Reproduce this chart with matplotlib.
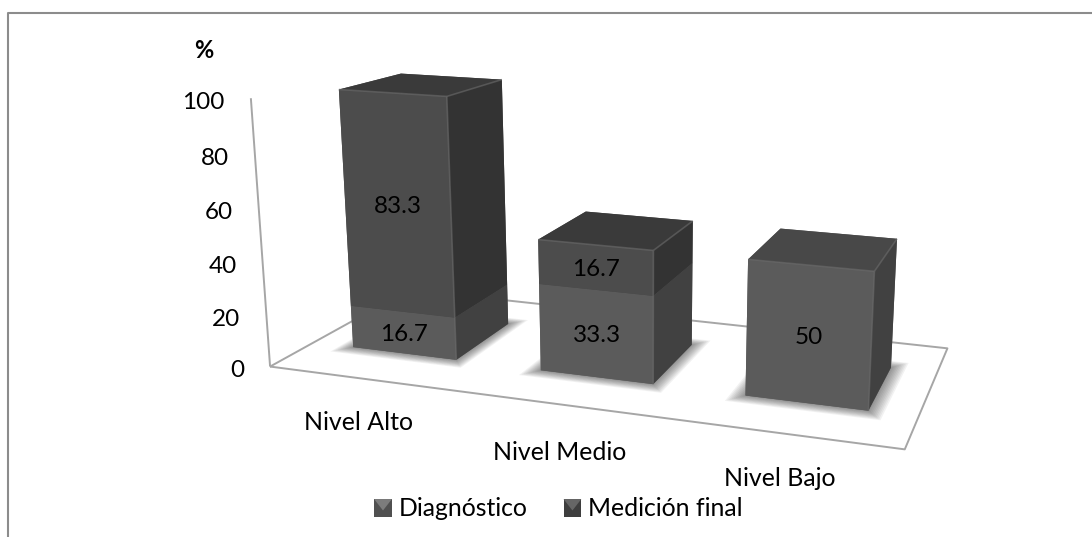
import numpy as np
import matplotlib
matplotlib.use("Agg")
import matplotlib.pyplot as plt
from matplotlib.legend_handler import HandlerPatch
from matplotlib.patches import Patch, Polygon, Rectangle
from mpl_toolkits.mplot3d import proj3d
from mpl_toolkits.mplot3d.art3d import Line3DCollection, Poly3DCollection

plt.rcParams['font.family'] = ['Lato', 'DejaVu Sans']

categories = ["Nivel Alto", "Nivel Medio", "Nivel Bajo"]
diagnostico = [16.7, 33.3, 50]
medicion_final = [83.3, 16.7, 0]
y_ticks = [0, 20, 40, 60, 80, 100]

bar_w = 0.56
front, back = 0.28, 0.72
category_label_px = [(358, 423), (560, 452), (780, 479)]

# face order for bar3d: bottom, top, front, back, left, right
colors_diag = ['#5b5b5b', '#484848', '#5b5b5b', '#5b5b5b', '#5b5b5b', '#414141']
colors_final = ['#4c4c4c', '#3a3a3a', '#4c4c4c', '#4c4c4c', '#4c4c4c', '#333333']

# camera solved from where known scene points land on the canvas
scene_pts = [(0, 0, 0), (3, 0, 0), (3, 1, 0), (0, 1, 0), (0, 0, 100),
             (.22, .28, 100), (.78, .28, 100), (.78, .72, 100), (.22, .72, 100),
             (2.22, .28, 50), (2.78, .28, 50), (2.78, .72, 50),
             (1.22, .28, 50), (1.78, .28, 50),
             (.22, .28, 0), (.78, .28, 0), (2.22, .28, 0), (2.78, .28, 0)]
canvas_pts = [(268, 369), (903, 452), (948, 348), (411, 290), (251, 98),
              (342, 90), (450, 96), (498, 80), (398, 73),
              (748, 259), (876, 270), (897, 242),
              (538, 239), (654, 250),
              (353, 347), (457, 358), (744, 394), (869, 409)]


def solve_camera(world, canvas):
    rows = []
    for (x, y, z), (u, v) in zip(world, canvas):
        z, u, v = z / 100, u / 1000, v / 1000
        rows.append([x, y, z, 1, 0, 0, 0, 0, -u * x, -u * y, -u * z, -u])
        rows.append([0, 0, 0, 0, x, y, z, 1, -v * x, -v * y, -v * z, -v])
    cam = np.linalg.svd(np.array(rows))[2][-1].reshape(3, 4)
    cam = cam / cam[2, 3]
    cam[:2] *= 1000
    cam[:, 2] /= 100
    return cam


cam = solve_camera(scene_pts, canvas_pts)

fig = plt.figure(figsize=(10.92, 5.37), dpi=100)
ax = fig.add_axes([0, 0, 1, 1], projection='3d')
ax.set_axis_off()
ax.set_xticks([])
ax.set_yticks([])
ax.set_zticks([])
ax.computed_zorder = False
ax.apply_aspect = lambda position=None: None


def get_proj():
    # canvas pixels to the 2d view limits of the axes, plus a depth row for sorting
    lim = ax.viewLim
    sx = (lim.x1 - lim.x0) / 1092
    sy = (lim.y0 - lim.y1) / 537
    m = np.zeros((4, 4))
    m[0] = sx * cam[0] + lim.x0 * cam[2]
    m[1] = sy * cam[1] + lim.y1 * cam[2]
    m[2] = [-0.3, 1.0, -0.004, 1.0]
    m[3] = cam[2]
    return m


ax.get_proj = get_proj


def scene_text(x, y, z, s, shift=(0, 0), **kw):
    # shift is in pixels, right and down
    u, v, _ = proj3d.proj_transform(x, y, z, get_proj())
    ax.annotate(s, xy=(float(u), float(v)), xycoords=ax.transData, color='black',
                xytext=(shift[0] * 0.72, -shift[1] * 0.72), textcoords='offset points', **kw)


def canvas_text(u, v, s, **kw):
    ax.text2D(u / 1092, 1 - v / 537, s, transform=fig.transFigure, color='black', **kw)


def lines3d(segments, color, lw, zorder, alpha=1.0):
    ax.add_collection3d(Line3DCollection(segments, colors=color, linewidths=lw, alpha=alpha, zorder=zorder),
                        autolim=False)


class BevelHandler(HandlerPatch):
    # legend key drawn as a small bevelled tile
    def create_artists(self, legend, orig, xd, yd, w, h, fontsize, trans):
        x0, y0 = -xd, -yd
        base = Rectangle((x0, y0), w, h, facecolor=orig.get_facecolor(), edgecolor='none', transform=trans)
        tip = Polygon([(x0, y0 + h), (x0 + w, y0 + h), (x0 + w / 2, y0 + h * 0.35)], closed=True,
                      facecolor=orig.get_edgecolor(), edgecolor='none', transform=trans)
        return [base, tip]


# floor outline and value axis
lines3d([[(0, 0, 0), (3, 0, 0), (3, 1, 0), (0, 1, 0), (0, 0, 0)],
         [(0, 0, y_ticks[0]), (0, 0, y_ticks[-1])]], '#a6a6a6', 1.4, 1)

for i in range(len(categories)):
    left = i + 0.5 - bar_w / 2
    right = left + bar_w
    d = diagnostico[i]
    m = medicion_final[i]
    total = d + m

    # soft shadow on the floor
    for grow in np.linspace(0.07, 0.005, 10):
        xs = [left - grow, right + grow, right + grow, left - grow]
        ys = [front - grow, front - grow, back + grow, back + grow]
        ax.add_collection3d(Poly3DCollection([list(zip(xs, ys, [0] * 4))], facecolor='#000000',
                                             edgecolor='none', alpha=0.05, zorder=2))

    ax.bar3d(left, front, 0, bar_w, back - front, d, color=colors_diag, shade=False, zorder=3)
    if m > 0:
        ax.bar3d(left, front, d, bar_w, back - front, m, color=colors_final, shade=False, zorder=4)

    # lighter bevel along the front edges
    lines3d([[(right, front, 0), (right, front, total)],
             [(left, front, total), (right, front, total)],
             [(right, front, total), (right, back, total)]], '#6a6a6a', 1.2, 5, alpha=0.6)

    scene_text(i + 0.5, front, d / 2, str(d), shift=(1, 2), ha='center', va='center', fontsize=17.5, zorder=6)
    if m > 0:
        scene_text(i + 0.5, front, d + m / 2, str(m), shift=(1, 2), ha='center', va='center', fontsize=17.5, zorder=6)

    canvas_text(*category_label_px[i], categories[i], ha='center', va='center', fontsize=17.9)

for v in y_ticks:
    scene_text(0, 0, v, str(v), shift=(-26, 4), ha='right', va='center', fontsize=17.5, zorder=6)

canvas_text(204, 50, "%", ha='center', va='center', fontsize=17, fontweight='bold')

ax.legend(handles=[Patch(facecolor='#505050', edgecolor='#7c7c7c', label="Diagnóstico"),
                   Patch(facecolor='#3e3e3e', edgecolor='#666666', label="Medición final")],
          handler_map={Patch: BevelHandler()},
          ncol=2, frameon=False, fontsize=17.8, loc='center', handlelength=0.72, handleheight=0.72,
          handletextpad=0.28, columnspacing=1.45, bbox_to_anchor=(558.5 / 1092, 1 - 509 / 537),
          bbox_transform=fig.transFigure)

# outer frame, open at the bottom and on the right
fig.add_artist(plt.Line2D([8.3 / 1092, 8.3 / 1092, 1], [0, 1 - 13 / 537, 1 - 13 / 537],
                          color='#8c8c8c', lw=1.5))

fig.savefig("out.png", dpi=100)
